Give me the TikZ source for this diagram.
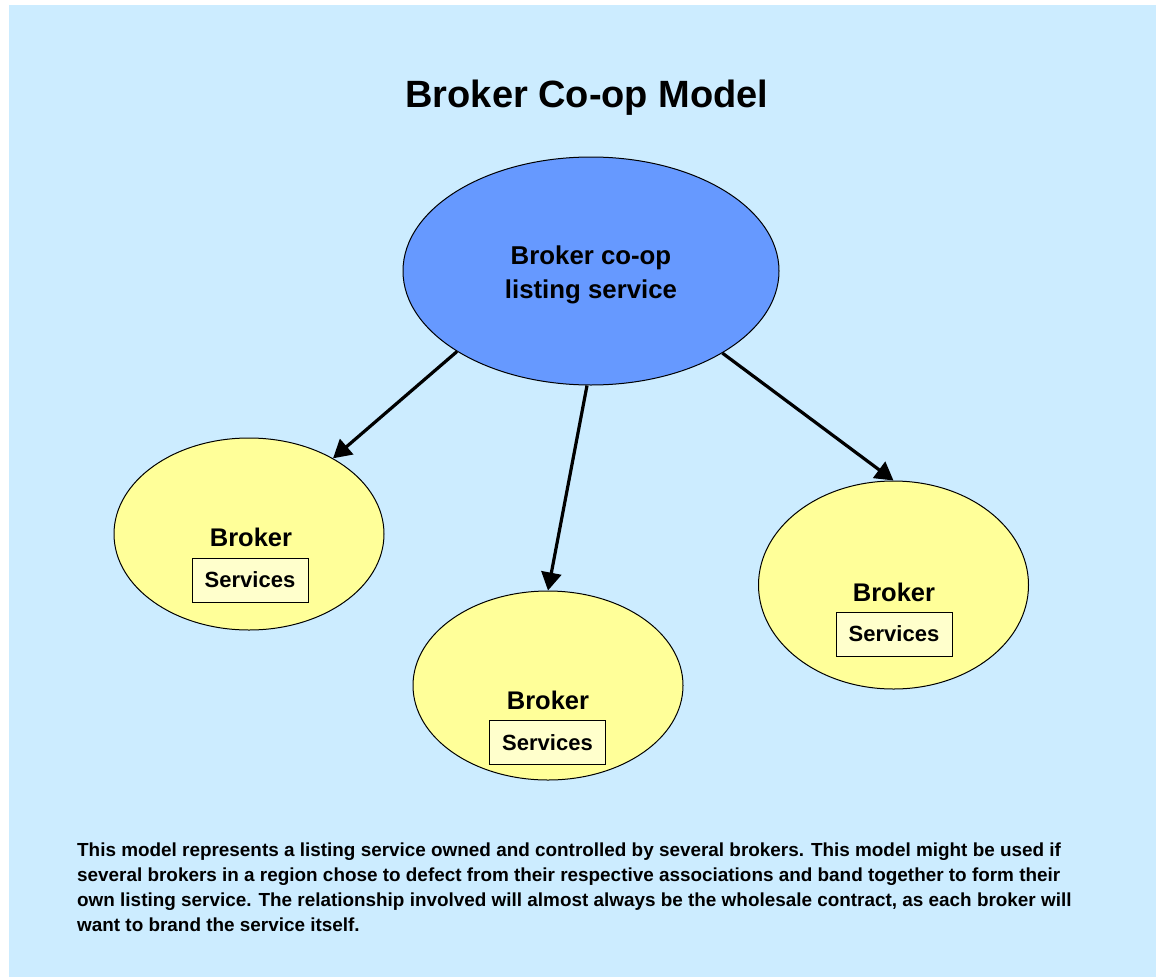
\documentclass[tikz,border=0pt]{standalone}
\usepackage{fontspec}
\setmainfont{Liberation Sans}
\usetikzlibrary{shapes.geometric,arrows.meta}
\definecolor{bgblue}{HTML}{CCECFF}
\definecolor{hubblue}{HTML}{6699FF}
\definecolor{brokeryellow}{HTML}{FFFF99}
\definecolor{boxyellow}{HTML}{FFFFCC}
\tikzset{
  hub/.style={ellipse, draw=black, line width=1pt, fill=hubblue,
    minimum width=376pt, minimum height=228pt, inner sep=0pt},
  broker/.style={ellipse, draw=black, line width=1pt, fill=brokeryellow,
    inner sep=0pt, minimum width=270pt},
  label/.style={inner sep=0pt, anchor=base, font=\bfseries\fontsize{25.5}{30}\selectfont},
  hublabel/.style={inner sep=0pt, anchor=base, font=\bfseries\fontsize{25.8}{30}\selectfont},
  svcbox/.style={rectangle, draw=black, line width=1pt, fill=boxyellow,
    minimum width=116pt, minimum height=44pt, inner sep=0pt,
    font=\bfseries\fontsize{22}{26}\selectfont},
  feed/.style={line width=3.2pt, -{Triangle[length=18pt,width=20pt]}}
}
\begin{document}
\begin{tikzpicture}[x=1pt,y=-1pt]
\useasboundingbox (0,0) rectangle (1156,977);
\fill[bgblue] (9,5) rectangle (1156,977);

% title
\node[inner sep=0pt, anchor=base, font=\bfseries\fontsize{38}{40}\selectfont] (title) at (587,107) {Broker Co-op Model};

% central listing service
\node[hub] (hub) at (591,271) {};
\node[hublabel] (hubA) at (591,264) {Broker co-op};
\node[hublabel] (hubB) at (591,298) {listing service};

% brokers
\node[broker, minimum height=192pt] (left) at (249,534) {};
\node[label] (leftL) at (251,546) {Broker};
\node[svcbox] (leftS) at (250,580) {Services};

\node[broker, minimum height=189pt] (mid) at (548,685.5) {};
\node[label] (midL) at (548,709) {Broker};
\node[svcbox] (midS) at (547.5,742.5) {Services};

\node[broker, minimum height=208pt] (right) at (893.5,585) {};
\node[label] (rightL) at (894,601) {Broker};
\node[svcbox] (rightS) at (894,634) {Services};

% connectors
\draw[feed] (hub.211) -- (left.42);
\draw[feed] (hub.268) -- (mid.90);
\draw[feed] (hub.328.5) -- (right.90);

% description
\node[inner sep=0pt, anchor=north west, align=left,
  font=\bfseries\fontsize{18.9}{24.7}\selectfont] (desc) at (77,843)
{This model represents a listing service owned and controlled by several brokers. This model might be used if\\
several brokers in a region chose to defect from their respective associations and band together to form their\\
own listing service. The relationship involved will almost always be the wholesale contract, as each broker will\\
want to brand the service itself.};
\end{tikzpicture}
\end{document}
